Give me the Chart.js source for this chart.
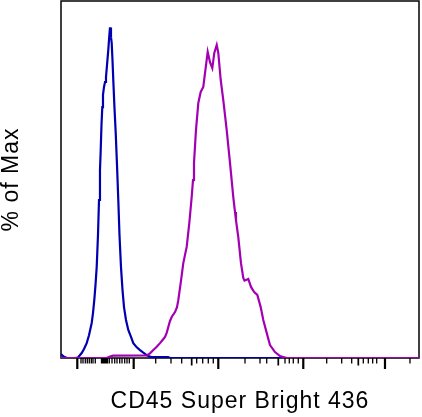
<!DOCTYPE html>
<html>
<head>
<meta charset="utf-8">
<script src="https://cdn.jsdelivr.net/npm/chart.js@4.4.1/dist/chart.umd.min.js"></script>
<style>
  html, body { margin: 0; padding: 0; background: #fff; }
  canvas { display: block; }
</style>
</head>
<body>
<canvas id="c" width="422" height="417"></canvas>
<script>
// Display channel (0-1024 across the axis) and % of Max for each histogram
const isotypeX = [0, 7.2, 17.2, 40, 48.6, 59.2, 65.8, 73.5, 80.1, 87.8, 91.5, 95.2, 98.7, 102.1, 105.8, 108.7, 111.5, 113.6, 115.8, 118.1, 120.1, 123.0, 125.9, 128.7, 131.6, 135.3, 137.9, 140.2, 143.0, 145.0, 147.3, 149.6, 153.0, 156.5, 160.2, 163.9, 167.3, 171.6, 175.9, 180.2, 185.9, 192.5, 200.2, 206.8, 216.0, 226.0, 234.5, 245.1, 251.7, 259.4, 283.2, 306.1, 311.8, 1024];
const isotypeY = [1.2, 0.45, 0, 0, 0.15, 1.5, 2.7, 4.5, 6.9, 10.6, 13.6, 17.5, 22.1, 27.5, 37.2, 47.8, 56.9, 62.9, 70.5, 75.9, 79.6, 82.0, 83.5, 85.0, 88.6, 93.2, 97.1, 100, 97.1, 95.3, 90.1, 84.0, 75.6, 68.1, 58.4, 47.8, 37.2, 27.5, 20.6, 15.4, 11.5, 8.5, 6.4, 4.5, 3.3, 2.4, 1.7, 0.9, 0.5, 0.3, 0.3, 0.3, 0, 0];

const stainedX = [0, 130.7, 140.2, 148.7, 245.1, 254.6, 264.0, 273.2, 283.2, 291.7, 297.5, 302.3, 306.9, 311.8, 316.6, 326.1, 331.8, 335.5, 342.4, 349.8, 354.7, 359.5, 367.0, 373.8, 377.6, 380.4, 386.1, 392.7, 399.6, 407.0, 411.9, 419.6, 426.2, 432.8, 438.5, 445.4, 449.9, 456.8, 464.2, 473.9, 483.4, 492.8, 497.7, 500.5, 507.1, 514.8, 521.4, 524.8, 529.1, 535.7, 543.5, 552.0, 561.5, 571.2, 578.6, 588.4, 597.8, 612.1, 626.4, 645.6, 1024];
const stainedY = [0, 0, 0.45, 0.7, 0.8, 1.4, 2.4, 3.3, 4.5, 5.6, 6.4, 7.6, 9.4, 11.2, 12.4, 13.9, 15.4, 17.5, 22.7, 28.7, 31.2, 33.6, 40.8, 48.7, 53.8, 59.0, 69.0, 77.1, 80.5, 82.0, 86.2, 92.6, 89.5, 87.7, 92.3, 94.7, 92.3, 84.1, 78.0, 69.0, 59.0, 48.7, 44.2, 41.7, 36.6, 28.7, 24.2, 23.4, 23.6, 23.9, 21.5, 20.0, 19.1, 15.4, 11.5, 7.6, 3.9, 1.8, 0.6, 0, 0];

// Biexponential axis tick positions (display channels); the axis carries no tick labels
const majorTicks = [46.6, 207.9, 449.9, 693.0, 926.7];
const mediumTicks = [373.8, 621.5, 850.4];
const minorTicks = [57.2, 62.9, 69.5, 75.2, 80.9, 86.7, 91.5, 98.1,
  115.8, 118.7, 121.6, 124.4, 127.3, 130.1, 133.0,
  138.2, 145.9, 153.6, 160.2, 167.9, 174.5, 182.2, 188.8, 195.4,
  270.9, 314.6, 345.2, 388.1, 405.3, 421.3, 435.6,
  526.3, 569.2, 588.4, 640.7, 653.0, 664.4, 678.7,
  760.0, 802.9, 831.5, 864.7, 879.0, 891.5, 903.0,
  998.2];

const xTitle = 'CD45 Super Bright 436';
const yTitle = '% of Max';

const toPoints = (xs, ys) => xs.map((x, i) => ({ x: x, y: ys[i] }));

const frameAndTicks = {
  id: 'frameAndTicks',
  beforeDraw(chart) {
    chart.ctx.letterSpacing = '1px';
  },
  beforeDatasetsDraw(chart) {
    const { ctx, chartArea: a, scales: { x } } = chart;
    ctx.save();
    ctx.strokeStyle = '#000';
    ctx.lineWidth = 1.5;
    ctx.strokeRect(a.left, a.top, a.right - a.left, a.bottom - a.top);
    const draw = (vals, len, w) => {
      ctx.lineWidth = w;
      ctx.beginPath();
      vals.forEach(v => {
        const p = x.getPixelForValue(v);
        ctx.moveTo(p, a.bottom);
        ctx.lineTo(p, a.bottom + len);
      });
      ctx.stroke();
    };
    draw(minorTicks, 5.5, 1.3);
    draw(mediumTicks, 7.5, 1.7);
    draw(majorTicks, 11, 2.2);
    ctx.restore();
  }
};

new Chart(document.getElementById('c'), {
  type: 'line',
  data: {
    datasets: [
      {
        label: 'CD45',
        data: toPoints(stainedX, stainedY),
        borderColor: '#a300b4',
        borderWidth: 2.2,
        pointRadius: 0,
        tension: 0,
        fill: false
      },
      {
        label: 'Isotype',
        data: toPoints(isotypeX, isotypeY),
        borderColor: '#0000b0',
        borderWidth: 2.2,
        pointRadius: 0,
        tension: 0,
        fill: false
      }
    ]
  },
  options: {
    responsive: false,
    animation: false,
    events: [],
    layout: { padding: { top: 1, right: 3, left: 0, bottom: 0 } },
    plugins: { legend: { display: false }, tooltip: { enabled: false } },
    scales: {
      x: {
        type: 'linear',
        min: 0,
        max: 1024,
        grid: { display: false },
        border: { display: false },
        ticks: { display: false },
        afterFit: s => { s.height = 59; },
        title: {
          display: true,
          text: xTitle,
          color: '#000',
          font: { family: 'Liberation Sans', size: 23, lineHeight: 1.2 },
          padding: { top: 0, bottom: 2 }
        }
      },
      y: {
        min: 0,
        max: 108,
        grid: { display: false },
        border: { display: false },
        ticks: { display: false },
        afterFit: s => { s.width = 61; },
        title: {
          display: true,
          text: yTitle,
          color: '#000',
          font: { family: 'Liberation Sans', size: 23, lineHeight: 1 },
          padding: { top: 0, bottom: 0 }
        }
      }
    }
  },
  plugins: [frameAndTicks]
});
</script>
</body>
</html>
